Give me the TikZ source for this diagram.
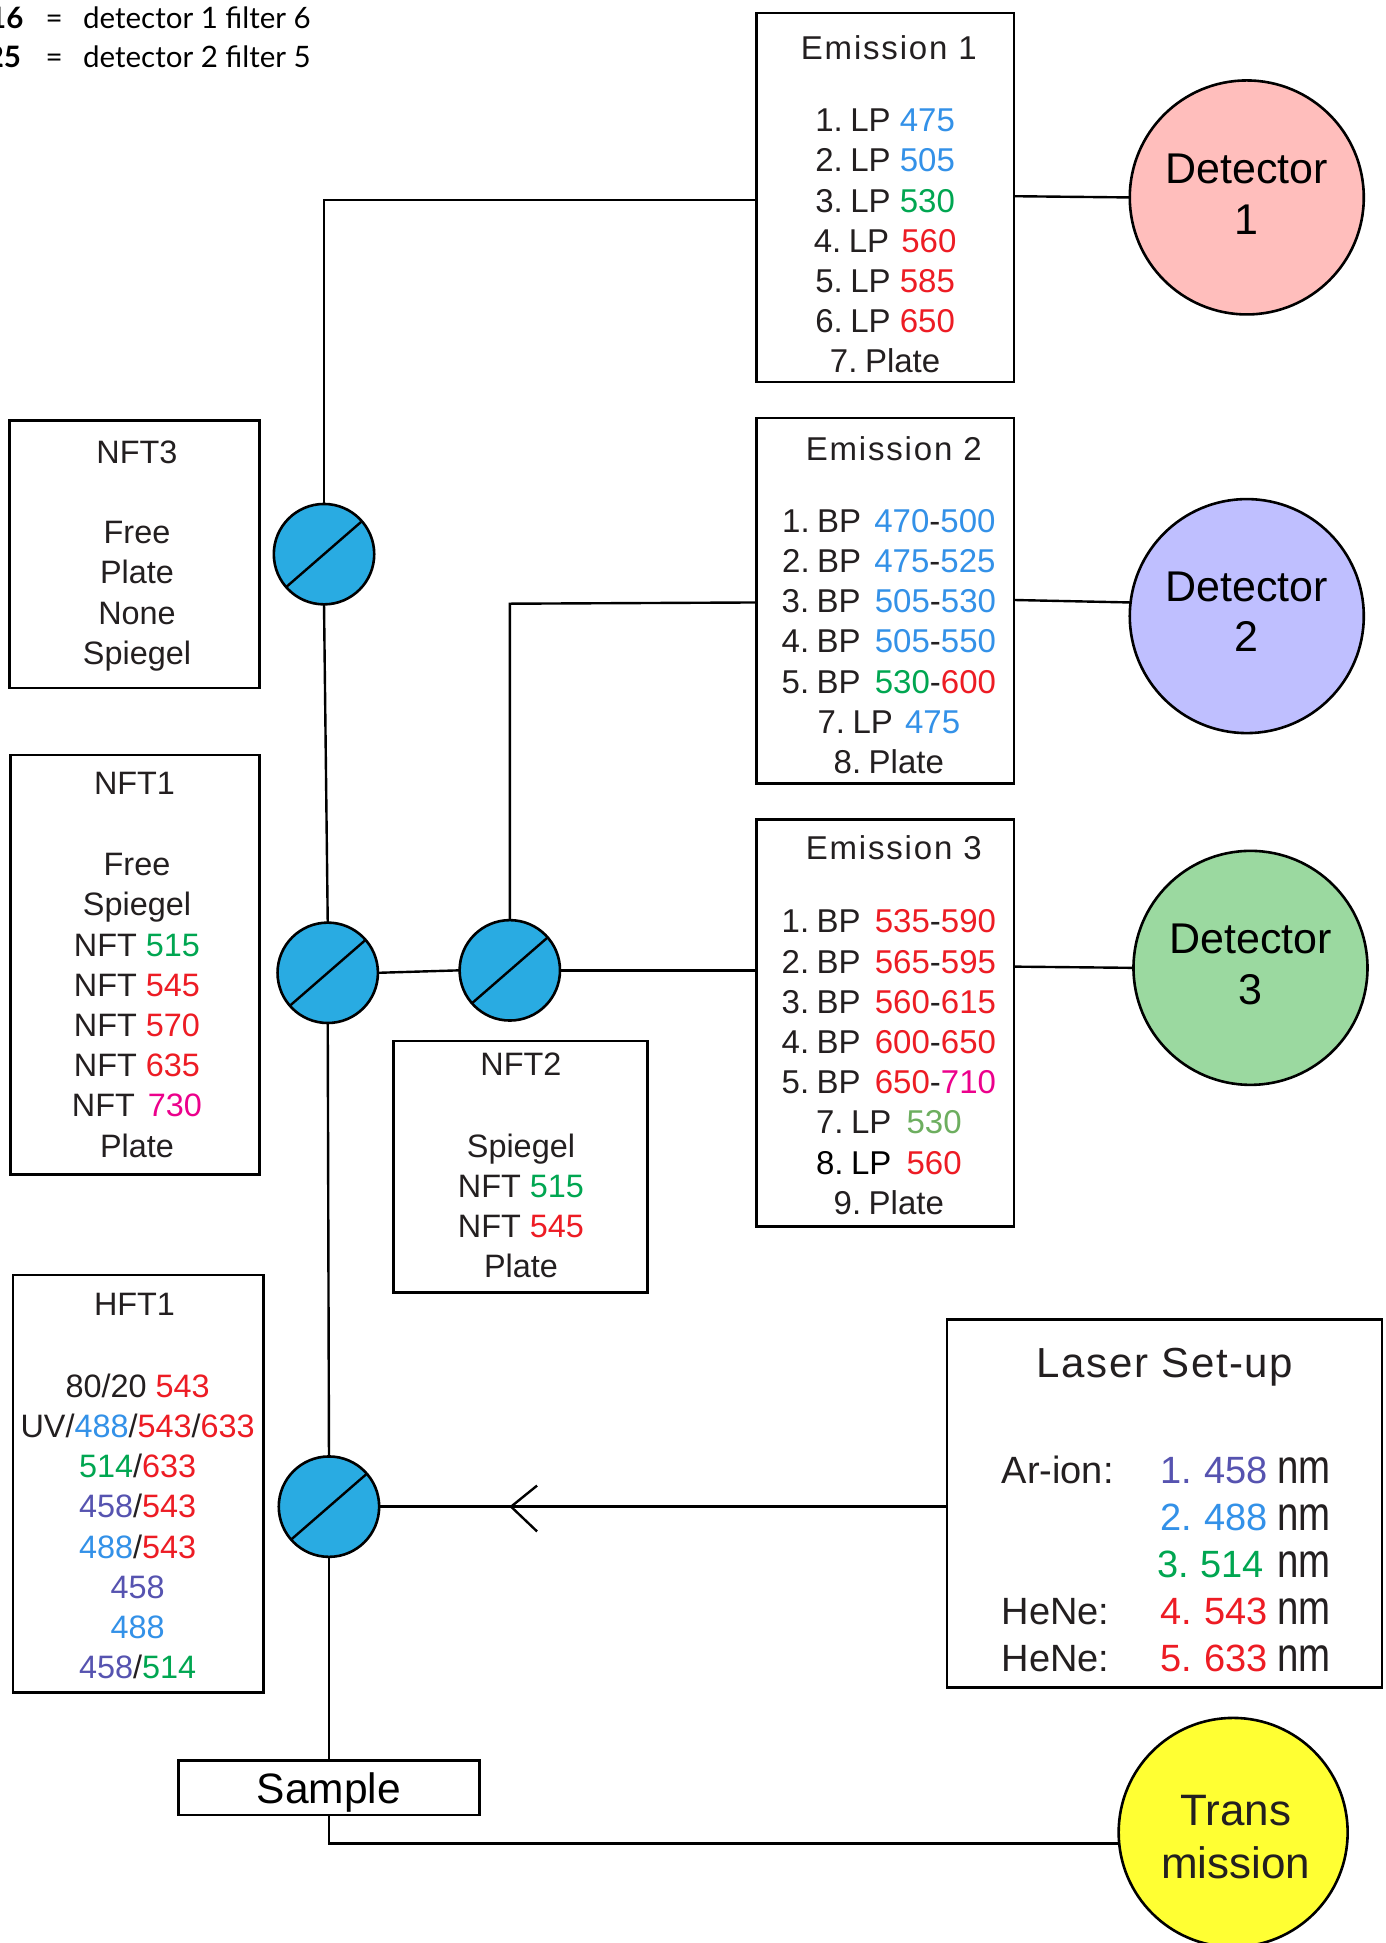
\documentclass[tikz,border=0pt]{standalone}
\usepackage{fontspec}
\setmainfont{Liberation Sans}
\newfontfamily\tracked[LetterSpace=5.5]{Liberation Sans}
\newfontfamily\trackedb[LetterSpace=3.8]{Liberation Sans}
\newfontfamily\notefont{Lato}
\definecolor{ink}{HTML}{231F20}
\definecolor{bl}{HTML}{3391E8}
\definecolor{gr}{HTML}{00A651}
\definecolor{rd}{HTML}{ED1C24}
\definecolor{mg}{HTML}{EC008C}
\definecolor{pu}{HTML}{5653B0}
\definecolor{lg}{HTML}{6DAE5F}
\definecolor{cy}{HTML}{29ABE2}
\newcommand{\B}[1]{\textcolor{bl}{#1}}
\newcommand{\G}[1]{\textcolor{gr}{#1}}
\newcommand{\R}[1]{\textcolor{rd}{#1}}
\newcommand{\M}[1]{\textcolor{mg}{#1}}
\newcommand{\Pu}[1]{\textcolor{pu}{#1}}
\newcommand{\dg}{\hspace{7.5pt}}
\newcommand{\unitnm}{\scalebox{0.8}[1]{\fontsize{48}{48}\selectfont\textcolor{ink}{nm}}}
\tikzset{
  panel/.style={draw=black,line width=2.6pt,fill=white,inner sep=0pt,outer sep=0pt},
  conn/.style={draw=black,line width=2.4pt,line join=miter},
  split/.style={circle,draw=black,line width=2.6pt,fill=cy,minimum size=100.4pt,inner sep=0pt,outer sep=0pt},
  det/.style={circle,draw=black,line width=2.6pt,minimum size=234pt,inner sep=0pt,outer sep=0pt},
  dtext/.style={align=center,inner sep=0pt,font=\fontsize{43}{50.8}\selectfont,text=black},
  ttl/.style={font=\tracked\fontsize{33}{40}\selectfont,text=ink,inner sep=0pt},
  lst/.style={align=center,font=\fontsize{33}{40.2}\selectfont,text=ink,inner sep=0pt},
  slst/.style={lst,font=\fontsize{32.4}{40.2}\selectfont},
  las/.style={font=\fontsize{38}{47}\selectfont,text=ink,inner sep=0pt},
  note/.style={font=\notefont\fontsize{29.5}{36}\selectfont,text=black,inner sep=0pt,anchor=base west}
}
\begin{document}
\begin{tikzpicture}[x=1.2386pt,y=-1.2386pt]
\useasboundingbox (-0.6,-0.4) rectangle (1118.4,1568.3);

% note
\node[note,anchor=base east,font=\notefont\bfseries\fontsize{29.5}{36}\selectfont] (n1a) at (18.5,23) {16};
\node[note] (n1b) at (36,23) {=};
\node[note] (n1c) at (66.3,23) {detector 1 filter 6};
\node[note,anchor=base east,font=\notefont\bfseries\fontsize{29.5}{36}\selectfont] (n2a) at (16.5,54) {25};
\node[note] (n2b) at (36,54) {=};
\node[note] (n2c) at (66.3,54) {detector 2 filter 5};

% panels
\node[panel,minimum width={208*1.2386pt},minimum height={298*1.2386pt}] (e1) at (714,159) {};
\node[panel,minimum width={208*1.2386pt},minimum height={295*1.2386pt}] (e2) at (714,484.5) {};
\node[panel,minimum width={208*1.2386pt},minimum height={329*1.2386pt}] (e3) at (714,825.5) {};
\node[panel,minimum width={202*1.2386pt},minimum height={216*1.2386pt}] (nft3) at (108,447) {};
\node[panel,minimum width={201*1.2386pt},minimum height={339*1.2386pt}] (nft1) at (108.5,778.5) {};
\node[panel,minimum width={205*1.2386pt},minimum height={203*1.2386pt}] (nft2) at (419.5,941.5) {};
\node[panel,minimum width={202*1.2386pt},minimum height={337*1.2386pt}] (hft1) at (111,1197.5) {};
\node[panel,minimum width={351*1.2386pt},minimum height={297*1.2386pt}] (laser) at (939.5,1213.5) {};
\node[panel,minimum width={243*1.2386pt},minimum height={44*1.2386pt},font=\fontsize{42.5}{50}\selectfont,text=black,text depth=0pt] (sample) at (265,1443) {Sample};

% titles
\node[ttl] (te1) at (717,38.5) {Emission 1};
\node[ttl] (te2) at (721,361.5) {Emission 2};
\node[ttl] (te3) at (721,684) {Emission 3};
\node[slst] (tn3) at (110,365) {NFT3};
\node[slst] (tn1) at (108,632) {NFT1};
\node[slst] (tn2) at (420,859) {NFT2};
\node[slst] (th1) at (108,1053) {HFT1};
\node[font=\trackedb\fontsize{42}{50}\selectfont,text=ink,inner sep=0pt] (tl) at (940,1103) {Laser Set-up};

% lists
\node[lst] (le1) at (714,194.2) {%
1.\dg LP \B{475}\\ 2.\dg LP \B{505}\\ 3.\dg LP \G{530}\\ 4.\dg LP\hspace{3pt} \R{560}\\ 5.\dg LP \R{585}\\ 6.\dg LP \R{650}\\ 7.\dg Plate};
\node[lst] (le2) at (717,517.5) {%
1.\dg BP\hspace{4pt} \B{470}-\B{500}\\ 2.\dg BP\hspace{4pt} \B{475}-\B{525}\\ 3.\dg BP\hspace{5pt} \B{505}-\B{530}\\ 4.\dg BP\hspace{5pt} \B{505}-\B{550}\\ 5.\dg BP\hspace{5pt} \G{530}-\R{600}\\ 7.\dg LP\hspace{3pt} \B{475}\\ 8.\dg Plate};
\node[lst] (le3) at (717,857.2) {%
1.\dg BP\hspace{5pt} \R{535}-\R{590}\\ 2.\dg BP\hspace{5pt} \R{565}-\R{595}\\ 3.\dg BP\hspace{5pt} \R{560}-\R{615}\\ 4.\dg BP\hspace{5pt} \R{600}-\R{650}\\ 5.\dg BP\hspace{5pt} \R{650}-\M{710}\\ 7.\dg LP\hspace{6pt} \textcolor{lg}{530}\\ \textcolor{black}{8.\dg LP\hspace{6pt}} \R{560}\\ 9.\dg Plate};
\node[slst] (ln3) at (110,481) {Free\\ Plate\\ None\\ Spiegel};
\node[slst] (ln1) at (110,811.3) {Free\\ Spiegel\\ NFT \G{515}\\ NFT \R{545}\\ NFT \R{570}\\ NFT \R{635}\\ NFT\hspace{4pt} \M{730}\\ Plate};
\node[slst] (ln2) at (420,973.3) {Spiegel\\ NFT \G{515}\\ NFT \R{545}\\ Plate};
\node[slst] (lh1) at (110.5,1232) {80/20 \R{543}\\ UV/\B{488}/\R{543}/\R{633}\\ \G{514}/\R{633}\\ \Pu{458}/\R{543}\\ \B{488}/\R{543}\\ \Pu{458}\\ \B{488}\\ \Pu{458}/\G{514}};

% laser rows
\node[las,anchor=base west] (la1) at (808,1197) {Ar-ion:};
\node[las,anchor=base west] (la4) at (808,1311) {HeNe:};
\node[las,anchor=base west] (la5) at (808,1349) {HeNe:};
\node[las,anchor=base east] (r1) at (1074,1197) {\Pu{1.\hspace{12pt}458}\hspace{-1pt} \unitnm};
\node[las,anchor=base east] (r2) at (1074,1235) {\B{2.\hspace{12pt}488}\hspace{-1pt} \unitnm};
\node[las,anchor=base east] (r3) at (1074,1273) {\G{3.\hspace{11pt}514}\hspace{3pt} \unitnm};
\node[las,anchor=base east] (r4) at (1074,1311) {\R{4.\hspace{12pt}543}\hspace{-1pt} \unitnm};
\node[las,anchor=base east] (r5) at (1074,1349) {\R{5.\hspace{12pt}633}\hspace{-1pt} \unitnm};

% detectors
\node[det,fill={rgb,255:red,255;green,190;blue,188}] (d1) at (1006,159) {};
\node[dtext] (d1t) at (1006,156.5) {Detector\\1};
\node[det,fill={rgb,255:red,191;green,191;blue,255}] (d2) at (1006,497) {};
\node[dtext] (d2t) at (1006,493.5) {Detector\\2};
\node[det,fill={rgb,255:red,155;green,217;blue,160}] (d3) at (1009,781) {};
\node[dtext] (d3t) at (1009,778.5) {Detector\\3};
\node[det,fill={rgb,255:red,255;green,255;blue,51},minimum size=229pt] (tr) at (995,1479) {};
\node[dtext,text=ink,font=\fontsize{44}{53}\selectfont] (trt) at (997,1483) {Trans\\mission};

% splitters
\node[split] (s1) at (261,447) {};
\node[split] (s2) at (264,785) {};
\node[split] (s3) at (411,783) {};
\node[split] (s4) at (265,1216) {};
\foreach \s in {s1,s2,s3,s4} \draw[conn] (\s.41) -- (\s.221);

% connectors
\coordinate (e1in) at (610,161);
\coordinate (e2in) at (610,486);
\coordinate (e2knee) at (411,487);
\coordinate (e3in) at (610,783);
\coordinate (e1out) at (818,158);
\coordinate (e2out) at (818,484);
\coordinate (d2in) at (912,486);
\coordinate (e3out) at (818,780);
\coordinate (lasin) at (764,1216);
\coordinate (tip) at (412,1216);
\coordinate (arma) at (433,1199);
\coordinate (armb) at (433,1236);
\coordinate (trin) at (903,1488);
\draw[conn] (s1.north) |- (e1in);
\draw[conn] (s1.south) -- (s2.north);
\draw[conn] (s2.south) -- (s4.north);
\draw[conn] (s2.east) -- (s3.west);
\draw[conn] (s3.north) -- (e2knee) -- (e2in);
\draw[conn] (s3.east) -- (e3in);
\draw[conn] (e1out) -- (d1.west);
\draw[conn] (e2out) -- (d2in);
\draw[conn] (e3out) -- (d3.west);
\draw[conn] (s4.east) -- (lasin);
\draw[conn] (arma) -- (tip) -- (armb);
\draw[conn] (s4.south) -- (sample.north -| s4.south);
\draw[conn] (sample.south -| s4.south) |- (trin);
\end{tikzpicture}
\end{document}
